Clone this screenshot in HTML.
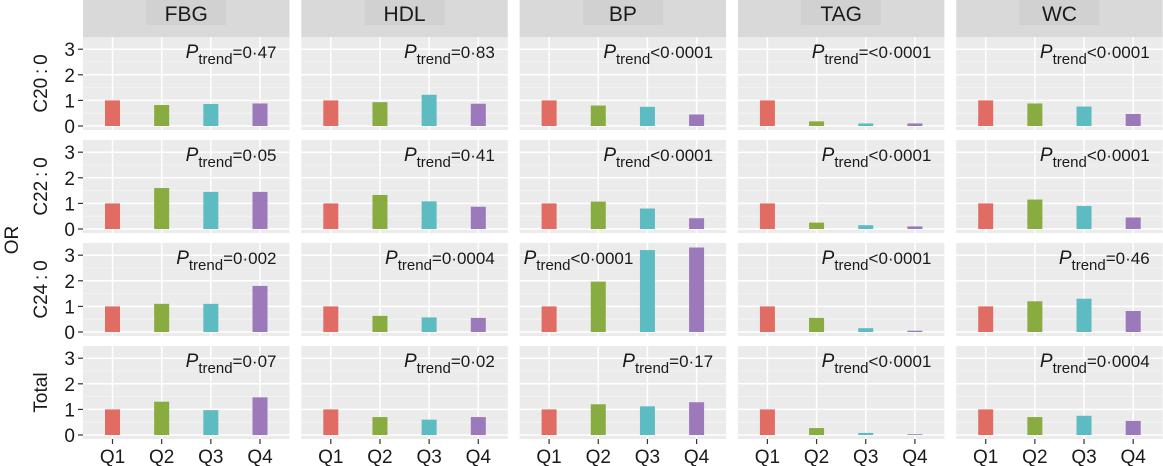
<!DOCTYPE html>
<html><head><meta charset="utf-8">
<style>
html,body{margin:0;padding:0;background:#fff;}
svg{display:block;font-family:"Liberation Sans",Arial,sans-serif;}
</style></head>
<body>
<svg id="chart" width="1163" height="466" viewBox="0 0 1163 466" xmlns="http://www.w3.org/2000/svg"></svg>
<script>
const columns = ["FBG","HDL","BP","TAG","WC"];
const rows = ["C20\u2009:\u20090","C22\u2009:\u20090","C24\u2009:\u20090","Total"];
const quartiles = ["Q1","Q2","Q3","Q4"];
const yTicks = [0,1,2,3];
const valuesC20 = [[1,0.82,0.86,0.88],[1,0.93,1.22,0.87],[1,0.80,0.75,0.45],[1,0.18,0.10,0.10],[1,0.88,0.76,0.47]];
const valuesC22 = [[1,1.60,1.45,1.45],[1,1.33,1.08,0.87],[1,1.07,0.80,0.42],[1,0.25,0.15,0.10],[1,1.15,0.90,0.45]];
const valuesC24 = [[1,1.10,1.10,1.80],[1,0.63,0.57,0.55],[1,1.97,3.20,3.30],[1,0.55,0.15,0.05],[1,1.20,1.30,0.82]];
const valuesTotal = [[1,1.30,0.97,1.47],[1,0.70,0.60,0.70],[1,1.20,1.12,1.28],[1,0.27,0.08,0.03],[1,0.70,0.75,0.55]];
const allValues = [valuesC20,valuesC22,valuesC24,valuesTotal];
const pOps = [["=","=","<","=<","<"],["=","=","<","<","<"],["=","=","<","<","="],["=","=","=","<","="]];
const pVals = [["0\u00b747","0\u00b783","0\u00b70001","0\u00b70001","0\u00b70001"],
               ["0\u00b705","0\u00b741","0\u00b70001","0\u00b70001","0\u00b70001"],
               ["0\u00b7002","0\u00b70004","0\u00b70001","0\u00b70001","0\u00b746"],
               ["0\u00b707","0\u00b702","0\u00b717","0\u00b70001","0\u00b70004"]];
const colors = ["#E06C63","#88AC3F","#5DBCC2","#9B79BA"];

const NS="http://www.w3.org/2000/svg";
const svg=document.getElementById('chart');
function mk(t,a,p){const e=document.createElementNS(NS,t);for(const k in a)e.setAttribute(k,a[k]);(p||svg).appendChild(e);return e;}
const colLeft=c=>83+c*218.3, panelW=206.5;
const zeroY=r=>126+r*103, unit=25.6;
const yScale=(r,v)=>zeroY(r)-v*unit;
const xScale=(c,i)=>colLeft(c)+panelW*(0.6+i)/4.2;

columns.forEach((name,c)=>{
  const g=mk('g',{});
  
  
  mk('rect',{x:colLeft(c),y:0,width:panelW,height:37,fill:'#D9D9D9'},g);
  const cx=colLeft(c)+panelW/2;
  mk('rect',{x:cx-40,y:0,width:80,height:25,fill:'#D1D1D1'},g);
  const t=mk('text',{x:cx,y:21,'text-anchor':'middle','font-size':21,fill:'#1a1a1a'},g);
  t.textContent=name;
});
const yt=mk('text',{x:0,y:0,transform:'translate(18,240) rotate(-90)','text-anchor':'middle','font-size':19,fill:'#1a1a1a'});


yt.textContent='OR';

rows.forEach((rname,r)=>{
  const top=zeroY(r)-89, bot=zeroY(r)+4;
  const rl=mk('text',{x:0,y:0,transform:`translate(47,${(top+bot)/2}) rotate(-90)`,'text-anchor':'middle','font-size':19,fill:'#1a1a1a'});
  
  
  rl.textContent=rname;
  yTicks.forEach(v=>{
    const y=yScale(r,v);
    const tl=mk('text',{x:75,y:y+7,'text-anchor':'end','font-size':19,fill:'#1a1a1a'});
    
    
    tl.textContent=v;
    mk('line',{x1:78,x2:83,y1:y,y2:y,stroke:'#333','stroke-width':1.2});
  });
  columns.forEach((cname,c)=>{
    const g=mk('g',{});
    
    
    const L=colLeft(c);
    mk('rect',{x:L,y:top,width:panelW,height:bot-top,fill:'#EBEBEB'},g);
    [0.5,1.5,2.5].forEach(v=>mk('line',{x1:L,x2:L+panelW,y1:yScale(r,v),y2:yScale(r,v),stroke:'#F5F5F5','stroke-width':0.8},g));
    yTicks.forEach(v=>mk('line',{x1:L,x2:L+panelW,y1:yScale(r,v),y2:yScale(r,v),stroke:'#fff','stroke-width':1.5},g));
    quartiles.forEach((q,i)=>mk('line',{x1:xScale(c,i),x2:xScale(c,i),y1:top,y2:bot,stroke:'#fff','stroke-width':1.5},g));
    const vals=allValues[r][c];
    quartiles.forEach((q,i)=>{
      const b=mk('rect',{x:xScale(c,i)-7.5,y:yScale(r,vals[i]),width:15,height:vals[i]*unit,fill:colors[i]},g);
      
      
    });
    const leftAnchor=(r===2&&c===2);
    const tx=leftAnchor?L+4:L+panelW-13;
    const t=mk('text',{x:tx,y:top+21,'text-anchor':leftAnchor?'start':'end','font-size':17,fill:'#1a1a1a'},g);
    
    
    const op=pOps[r][c].replace(/</g,'&lt;');
    t.innerHTML=`<tspan font-style="italic" font-size="19">P</tspan><tspan dy="6" font-size="15">trend</tspan><tspan dy="-6">${op}${pVals[r][c]}</tspan>`;
  });
});
columns.forEach((cname,c)=>{
  quartiles.forEach((q,i)=>{
    const x=xScale(c,i);
    mk('line',{x1:x,x2:x,y1:439,y2:444,stroke:'#333','stroke-width':1.2});
    const t=mk('text',{x:x,y:463,'text-anchor':'middle','font-size':19,fill:'#1a1a1a'});
    
    
    t.textContent=q;
  });
});
</script>
</body></html>
